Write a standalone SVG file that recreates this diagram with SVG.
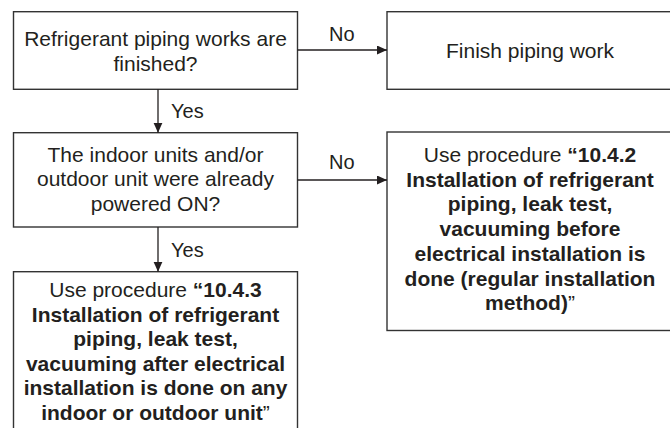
<svg xmlns="http://www.w3.org/2000/svg" width="670" height="428" viewBox="0 0 670 428">
<defs>
<style>
.box{fill:#fff;stroke:#333;stroke-width:1.4}
.t{font-family:"Liberation Sans",Arial,Helvetica,sans-serif;font-size:21px;fill:#231f20;text-anchor:middle}
.b{font-weight:bold}
.lbl{font-family:"Liberation Sans",Arial,Helvetica,sans-serif;font-size:20px;fill:#231f20}
.conn{stroke:#231f20;stroke-width:1.3;fill:none;marker-end:url(#ah)}
</style>
<marker id="ah" markerUnits="userSpaceOnUse" markerWidth="11" markerHeight="10" refX="10" refY="4.5" orient="auto">
<path d="M0,0 L10,4.5 L0,9 z" fill="#231f20"/>
</marker>
</defs>
<rect width="670" height="428" fill="#fff"/>
<g id="n1">
<rect class="box" x="13.5" y="11.7" width="284" height="77.6"/>
<text class="t" x="155.5" y="46">Refrigerant piping works are</text>
<text class="t" x="155.5" y="71">finished?</text>
</g>
<g id="n2">
<rect class="box" x="387" y="11.7" width="290" height="77.6"/>
<text class="t" x="530" y="57.5">Finish piping work</text>
</g>
<g id="n3">
<rect class="box" x="13.5" y="132.7" width="284" height="94.3"/>
<text class="t" x="155.5" y="161.5">The indoor units and/or</text>
<text class="t" x="155.5" y="186">outdoor unit were already</text>
<text class="t" x="155.5" y="210.5">powered ON?</text>
</g>
<g id="n4">
<rect class="box" x="387" y="132" width="290" height="198.5"/>
<text class="t" x="530" y="162">Use procedure <tspan class="b">“10.4.2</tspan></text>
<text class="t b" x="530" y="186.7">Installation of refrigerant</text>
<text class="t b" x="530" y="211.4">piping, leak test,</text>
<text class="t b" x="530" y="236">vacuuming before</text>
<text class="t b" x="530" y="260.8">electrical installation is</text>
<text class="t b" x="530" y="285.5">done (regular installation</text>
<text class="t" x="530" y="310"><tspan class="b">method)</tspan>”</text>
</g>
<g id="n5">
<rect class="box" x="13.5" y="271.7" width="284" height="170"/>
<text class="t" x="155.5" y="297">Use procedure <tspan class="b">“10.4.3</tspan></text>
<text class="t b" x="155.5" y="321.6">Installation of refrigerant</text>
<text class="t b" x="155.5" y="346.2">piping, leak test,</text>
<text class="t b" x="155.5" y="370.8">vacuuming after electrical</text>
<text class="t b" x="155.5" y="395.4">installation is done on any</text>
<text class="t" x="155.5" y="420"><tspan class="b">indoor or outdoor unit</tspan>”</text>
</g>
<g id="connectors">
<line class="conn" x1="297.5" y1="50" x2="387" y2="50"/>
<text class="lbl" x="329" y="41">No</text>
<line class="conn" x1="158" y1="89.3" x2="158" y2="132.7"/>
<text class="lbl" x="171" y="118">Yes</text>
<line class="conn" x1="297.5" y1="180" x2="387" y2="180"/>
<text class="lbl" x="329" y="169">No</text>
<line class="conn" x1="158" y1="227" x2="158" y2="271.7"/>
<text class="lbl" x="171" y="257">Yes</text>
</g>
</svg>
